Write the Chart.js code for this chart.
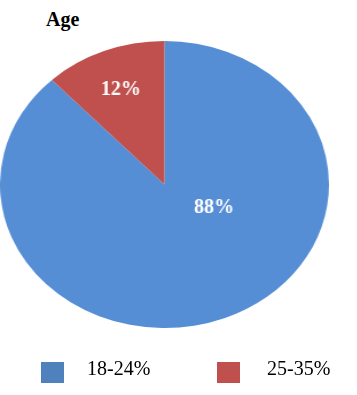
<!DOCTYPE html>
<html>
<head>
<meta charset="utf-8">
<script src="https://cdn.jsdelivr.net/npm/chart.js@4/dist/chart.umd.min.js"></script>
<style>
  html, body { margin: 0; padding: 0; background: #fff; }
  body { width: 357px; height: 395px; position: relative; overflow: hidden; font-family: 'Liberation Serif', 'Times New Roman', serif; }
  #wrap { position: absolute; left: 0; top: 0; width: 287px; height: 395px; transform: scaleX(1.1463); transform-origin: 0 0; }
  .t { position: absolute; line-height: 20px; font-size: 20px; color: #000; white-space: nowrap; }
  .sq { position: absolute; width: 23px; height: 21px; }
</style>
</head>
<body>
<div class="t" id="title" style="left:46px; top:9px; font-weight:bold;"></div>
<div id="wrap"><canvas id="c" width="287" height="395"></canvas></div>
<div id="legend"></div>
<script>
const chartTitle = "Age";
const categories = ["18-24%", "25-35%"];
const values = [88, 12];
const valueLabels = ["88%", "12%"];
const sliceColors = ["#558ED5", "#C0504D"];
const legendColors = ["#4F81BD", "#C0504D"];

document.getElementById('title').textContent = chartTitle;

const legendX = [{sq: 41, txt: 87}, {sq: 217, txt: 267}];
const legend = document.getElementById('legend');
categories.forEach((c, i) => {
  const s = document.createElement('div');
  s.className = 'sq';
  s.style.left = legendX[i].sq + 'px';
  s.style.top = '362px';
  s.style.background = legendColors[i];
  legend.appendChild(s);
  const t = document.createElement('div');
  t.className = 't';
  t.style.left = legendX[i].txt + 'px';
  t.style.top = '358px';
  t.textContent = c;
  legend.appendChild(t);
});

const SX = 1.1463;
const labelPlace = [{dAngle: -40.9, r: 0.34}, {dAngle: 0, r: 0.72}];

const labelPlugin = {
  id: 'sliceLabels',
  afterDatasetsDraw(chart) {
    const ctx = chart.ctx;
    const meta = chart.getDatasetMeta(0);
    meta.data.forEach((arc, i) => {
      const p = arc.getProps(['x', 'y', 'startAngle', 'endAngle', 'outerRadius'], true);
      const mid = (p.startAngle + p.endAngle) / 2 + labelPlace[i].dAngle * Math.PI / 180;
      const d = p.outerRadius * labelPlace[i].r;
      const x = p.x + Math.cos(mid) * d;
      const y = p.y + Math.sin(mid) * d;
      ctx.save();
      ctx.translate(x, y);
      ctx.scale(1 / SX, 1);
      ctx.fillStyle = '#fff';
      ctx.font = "bold 20px 'Liberation Serif', 'Times New Roman', serif";
      ctx.textAlign = 'center';
      ctx.textBaseline = 'middle';
      ctx.fillText(valueLabels[i], 0, 1);
      ctx.restore();
    });
  }
};

new Chart(document.getElementById('c'), {
  type: 'pie',
  data: {
    labels: categories,
    datasets: [{
      data: values,
      backgroundColor: sliceColors,
      borderWidth: 0
    }]
  },
  options: {
    responsive: false,
    animation: false,
    layout: { padding: { top: 41, bottom: 67, left: 0, right: 0 } },
    plugins: { legend: { display: false }, tooltip: { enabled: false }, title: { display: false } }
  },
  plugins: [labelPlugin]
});
</script>
</body>
</html>
